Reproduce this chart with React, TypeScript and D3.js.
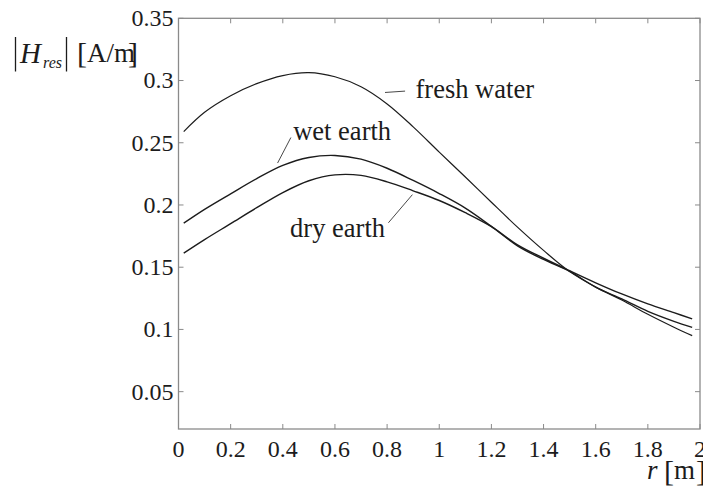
import * as d3 from "d3";

// distance r [m]
const rValues = [0.02, 0.1, 0.2, 0.3, 0.4, 0.5, 0.6, 0.7, 0.8, 0.9, 1.0, 1.1, 1.2, 1.3, 1.4, 1.5, 1.6, 1.7, 1.8, 1.9, 1.97];

// |Hres| [A/m] for each ground type
const freshWater = [0.259, 0.2745, 0.2878, 0.2975, 0.304, 0.3063, 0.303, 0.295, 0.2812, 0.2628, 0.2425, 0.2225, 0.2022, 0.1822, 0.1635, 0.1465, 0.134, 0.1236, 0.1122, 0.1018, 0.095];
const wetEarth = [0.1854, 0.1965, 0.209, 0.2212, 0.2318, 0.2382, 0.2398, 0.2368, 0.2295, 0.2197, 0.2092, 0.1975, 0.1828, 0.1672, 0.1562, 0.1466, 0.134, 0.1245, 0.1145, 0.1065, 0.1017];
const dryEarth = [0.1613, 0.1722, 0.185, 0.1978, 0.21, 0.2195, 0.2242, 0.2238, 0.2186, 0.2114, 0.2036, 0.1938, 0.1826, 0.168, 0.1572, 0.1472, 0.1375, 0.1285, 0.1205, 0.1135, 0.1085];

const xTicks = [0, 0.2, 0.4, 0.6, 0.8, 1, 1.2, 1.4, 1.6, 1.8, 2];
const yTicks = [0.05, 0.1, 0.15, 0.2, 0.25, 0.3, 0.35];

// curve labels: text anchor and leader line, in data units
const labelNames = ["fresh water", "wet earth", "dry earth"];
const labelAt = [[0.909, 0.2856], [0.44, 0.252], [0.428, 0.1742]];
const leaderFrom = [[0.792, 0.2904], [0.38, 0.2337], [0.805, 0.1857]];
const leaderTo = [[0.869, 0.2915], [0.431, 0.2542], [0.897, 0.2083]];

export default function App() {
  const width = 703;
  const height = 495;
  const marginLeft = 178.5;
  const marginRight = 3;
  const marginTop = 18.3;
  const marginBottom = 66;

  const x = d3.scaleLinear().domain([0, 2]).range([marginLeft, width - marginRight]);
  const y = d3.scaleLinear().domain([0.02, 0.35]).range([height - marginBottom, marginTop]);

  const line = d3
    .line<[number, number]>()
    .x((d) => x(d[0]))
    .y((d) => y(d[1]))
    .curve(d3.curveCatmullRom.alpha(0.5));

  const series = [freshWater, wetEarth, dryEarth].map((vals) =>
    rValues.map((r, i) => [r, vals[i]] as [number, number])
  );

  const font = "Liberation Serif, Times New Roman, serif";
  const ink = "#1c1c1c";
  const axisColor = "#8a8a8a";
  const tick = 5;
  const [x0, x1] = x.range();
  const [y0, y1] = y.range();

  return (
    <svg
      width={width}
      height={height}
      style={{ position: "absolute", left: 0, top: 0, background: "#fff", fontFamily: font }}
    >
      {/* box */}
      <rect x={x0} y={y1} width={x1 - x0} height={y0 - y1} fill="none" stroke={axisColor} strokeWidth={1.3} />

      {/* x ticks, inward on bottom and top */}
      {xTicks.map((t) => (
        <g key={"x" + t}>
          <line x1={x(t)} x2={x(t)} y1={y0} y2={y0 - tick} stroke={axisColor} strokeWidth={1} />
          <line x1={x(t)} x2={x(t)} y1={y1} y2={y1 + tick} stroke={axisColor} strokeWidth={1} />
          <text x={x(t)} y={y0 + 28} textAnchor="middle" fontSize={24} fill={ink}>
            {t}
          </text>
        </g>
      ))}

      {/* y ticks, inward on left and right */}
      {yTicks.map((t) => (
        <g key={"y" + t}>
          <line x1={x0} x2={x0 + tick} y1={y(t)} y2={y(t)} stroke={axisColor} strokeWidth={1} />
          <line x1={x1} x2={x1 - tick} y1={y(t)} y2={y(t)} stroke={axisColor} strokeWidth={1} />
          <text x={x0 - 5} y={y(t)} dy="0.33em" textAnchor="end" fontSize={24} fill={ink}>
            {t}
          </text>
        </g>
      ))}

      {/* curves */}
      {series.map((s, i) => (
        <path key={i} d={line(s) ?? ""} fill="none" stroke={ink} strokeWidth={i === 0 ? 1.2 : 1.4} />
      ))}

      {/* labels */}
      {labelNames.map((name, i) => (
        <g key={name}>
          <line
            x1={x(leaderFrom[i][0])}
            y1={y(leaderFrom[i][1])}
            x2={x(leaderTo[i][0])}
            y2={y(leaderTo[i][1])}
            stroke="#333"
            strokeWidth={0.9}
          />
          <text x={x(labelAt[i][0])} y={y(labelAt[i][1])} fontSize={26.5} fill={ink}>
            {name}
          </text>
        </g>
      ))}

      {/* y axis title: |H_res| [A/m] */}
      <line x1={15.5} x2={15.5} y1={37} y2={71.5} stroke={ink} strokeWidth={1.3} />
      <text x={20} y={63} fontSize={29} fontStyle="italic" fill={ink}>
        H
      </text>
      <text x={43} y={68} fontSize={16} fontStyle="italic" fill={ink}>
        res
      </text>
      <line x1={66.5} x2={66.5} y1={37} y2={71.5} stroke={ink} strokeWidth={1.3} />
      <text x={77} y={63} fontSize={30} fill={ink}>
        [
      </text>
      <text x={87} y={62} fontSize={27} fill={ink}>
        A/m
      </text>
      <text x={128} y={63} fontSize={30} fill={ink}>
        ]
      </text>

      {/* x axis title: r [m] */}
      <text x={647} y={479} fontSize={27} fontStyle="italic" fill={ink}>
        r
      </text>
      <text x={664} y={481} fontSize={30} fill={ink}>
        [
      </text>
      <text x={674} y={479} fontSize={27} fill={ink}>
        m
      </text>
      <text x={696} y={481} fontSize={30} fill={ink}>
        ]
      </text>
    </svg>
  );
}
